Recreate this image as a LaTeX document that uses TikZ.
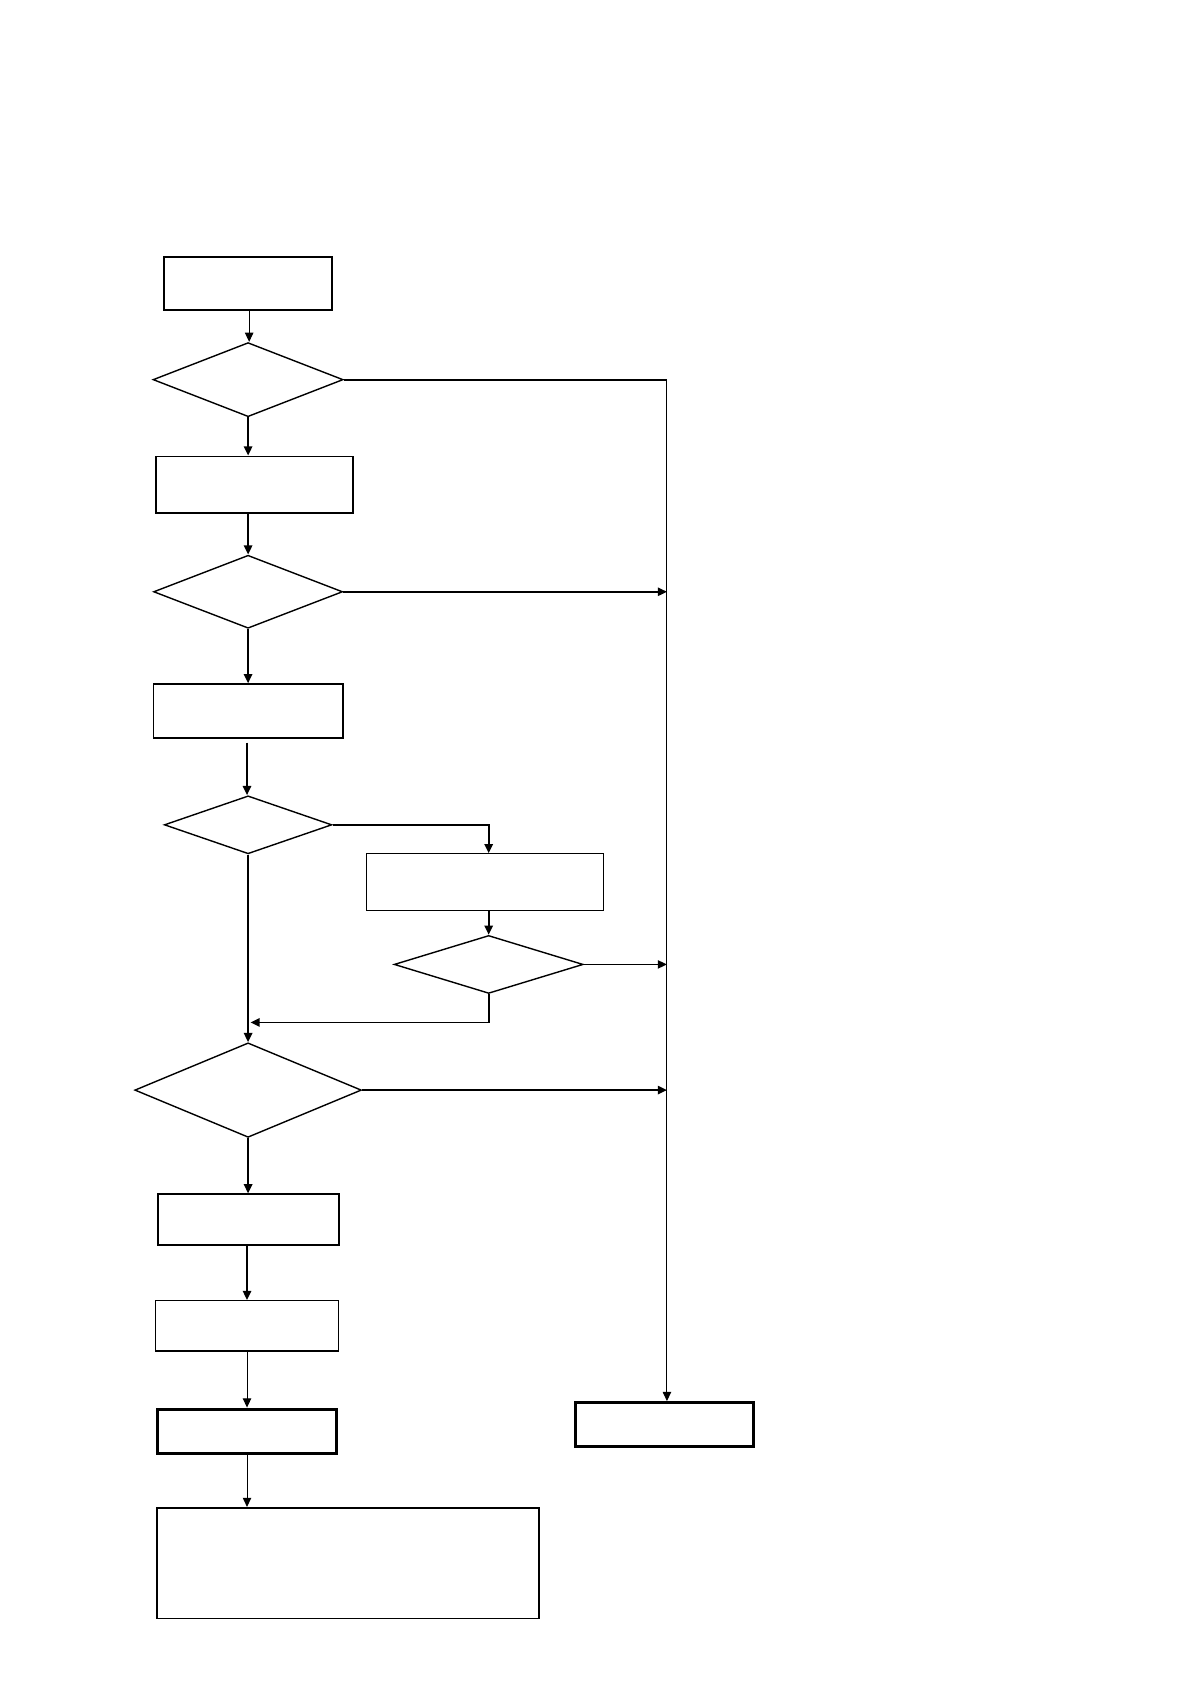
\documentclass[tikz,border=0pt]{standalone}
\usetikzlibrary{shapes.geometric,arrows.meta}
\begin{document}
\begin{tikzpicture}[x=0.537pt,y=-0.537pt,
  box/.style={draw,rectangle,inner sep=0pt,line width=0.9pt},
  dia/.style={draw,diamond,inner sep=0pt,line width=0.7pt},
  con/.style={line width=0.9pt,-{Triangle[length=4.6pt,width=4.2pt]}},
  thincon/.style={line width=0.5pt,-{Triangle[length=4.6pt,width=4.2pt]}}]
\useasboundingbox[fill=white] (0,0) rectangle (1108,1568);
% nodes
\node[box,minimum width={156*0.537pt},minimum height={50*0.537pt}] (b1) at (231,264) {};
\node[dia,minimum width={177*0.537pt},minimum height={69*0.537pt}] (d1) at (231,353.5) {};
\node[box,minimum width={184*0.537pt},minimum height={53*0.537pt}] (b2) at (237,451.5) {};
\node[dia,minimum width={176*0.537pt},minimum height={68*0.537pt}] (d2) at (231,551) {};
\node[box,minimum width={176*0.537pt},minimum height={50*0.537pt}] (b3) at (231,662) {};
\node[dia,minimum width={156*0.537pt},minimum height={54*0.537pt}] (d3) at (231,768) {};
\node[box,line width=0.6pt,minimum width={221*0.537pt},minimum height={53*0.537pt}] (b4) at (451.5,821.5) {};
\node[dia,minimum width={176*0.537pt},minimum height={54*0.537pt}] (d4) at (455,898) {};
\node[dia,minimum width={211*0.537pt},minimum height={88*0.537pt}] (d5) at (231,1015) {};
\node[box,minimum width={169*0.537pt},minimum height={47*0.537pt}] (b5) at (231.5,1135.5) {};
\node[box,line width=0.6pt,minimum width={170*0.537pt},minimum height={47*0.537pt}] (b6) at (230,1234.5) {};
\node[box,line width=1.5pt,minimum width={166*0.537pt},minimum height={41*0.537pt}] (b7) at (230,1332.5) {};
\node[box,line width=1.5pt,minimum width={166*0.537pt},minimum height={41*0.537pt}] (be) at (619,1326.5) {};
\node[box,minimum width={356*0.537pt},minimum height={103*0.537pt}] (b8) at (324,1455.5) {};
% helper coordinates
\coordinate (c1) at (d1.east -| 621,0);
\coordinate (c2) at (be.north -| 621,0);
\coordinate (m) at (231,952);
% main column
\draw[thincon] (b1.south -| 232,0) -- (d1.north -| 232,0);
\draw[con] (d1.south) -- (b2.north -| d1.south);
\draw[con] (b2.south -| d2.north) -- (d2.north);
\draw[con] (d2.south) -- (b3.north);
\draw[con,shorten <=2pt] (b3.south -| 230,0) -- (d3.north -| 230,0);
\draw[con] (d3.east) -| (b4.north -| d4.north);
\draw[con] (b4.south -| d4.north) -- (d4.north);
\draw[con,shorten >=1.2pt] (d4.south) |- (m);
\draw[con] (d3.south) -- (d5.north);
\draw[con] (d5.south) -- (b5.north -| d5.south);
\draw[con] (b5.south -| 230,0) -- (b6.north);
\draw[thincon] (b6.south) -- (b7.north);
\draw[thincon] (b7.south) -- (b8.north -| b7.south);
% right exits
\draw[line width=0.9pt] (d1.east) -- (c1);
\draw[thincon] (c1) -- (c2);
\draw[con] (d2.east) -- (d2.east -| c1);
\draw[con,line width=0.6pt] (d4.east) -- (d4.east -| c1);
\draw[con] (d5.east) -- (d5.east -| c1);
\end{tikzpicture}
\end{document}
